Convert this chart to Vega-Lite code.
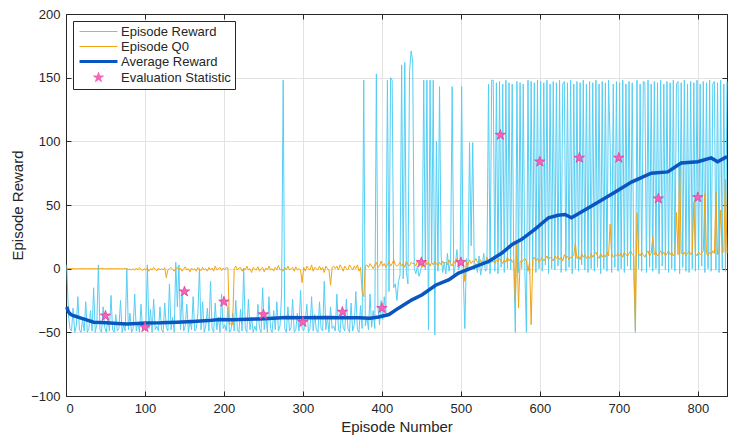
{
"$schema": "https://vega.github.io/schema/vega-lite/v6.json",
"width": 661, "height": 382,
"autosize": {"type": "none"},
"padding": {"left": 66, "top": 14, "right": 2, "bottom": 40},
"background": "white",
"config": {
 "view": {"stroke": "#262626", "strokeWidth": 1},
 "axis": {"domainColor": "#262626", "tickColor": "#262626", "labelColor": "#262626", "titleColor": "#262626", "labelFont": "Liberation Sans", "titleFont": "Liberation Sans", "labelFontSize": 13, "titleFontSize": 15, "titleFontWeight": "normal", "gridColor": "#E3E3E3", "tickSize": -5, "labelPadding": 11}
},
"datasets": {
"train": [
{"ep":1,"rw":3,"q0":0},{"ep":3,"rw":-36,"q0":0},{"ep":5,"rw":-47,"q0":0},{"ep":7,"rw":-49,"q0":0.2},{"ep":9,"rw":-31,"q0":0},{"ep":11,"rw":-50,"q0":0},{"ep":13,"rw":-45,"q0":-0.2},{"ep":15,"rw":-22,"q0":0},{"ep":17,"rw":-48,"q0":0},{"ep":19,"rw":-50,"q0":0},
{"ep":21,"rw":-40,"q0":0},{"ep":23,"rw":-49,"q0":0},{"ep":25,"rw":-26,"q0":0},{"ep":27,"rw":-50,"q0":0},{"ep":29,"rw":-47,"q0":0},{"ep":31,"rw":-33,"q0":0},{"ep":33,"rw":-49,"q0":0},{"ep":35,"rw":-15,"q0":0},{"ep":37,"rw":-50,"q0":0},{"ep":39,"rw":-44,"q0":0},
{"ep":41,"rw":3,"q0":0},{"ep":43,"rw":-48,"q0":0},{"ep":45,"rw":-50,"q0":0.2},{"ep":47,"rw":-30,"q0":0},{"ep":49,"rw":-46,"q0":0},{"ep":51,"rw":-50,"q0":-0.2},{"ep":53,"rw":-38,"q0":0},{"ep":55,"rw":-49,"q0":0},{"ep":57,"rw":-21,"q0":0},{"ep":59,"rw":-48,"q0":0},
{"ep":61,"rw":-50,"q0":0},{"ep":63,"rw":-36,"q0":0},{"ep":65,"rw":-49,"q0":0},{"ep":67,"rw":-47,"q0":0},{"ep":69,"rw":-25,"q0":0},{"ep":71,"rw":-50,"q0":-0.3},{"ep":73,"rw":-44,"q0":0},{"ep":75,"rw":-49,"q0":0.2},{"ep":77,"rw":0,"q0":0},{"ep":79,"rw":-48,"q0":-0.5},
{"ep":81,"rw":-35,"q0":-0.5},{"ep":83,"rw":-50,"q0":-1},{"ep":85,"rw":-47,"q0":0},{"ep":87,"rw":-20,"q0":-1.2},{"ep":89,"rw":-49,"q0":0.5},{"ep":91,"rw":-42,"q0":-1},{"ep":93,"rw":-50,"q0":0.8},{"ep":95,"rw":-28,"q0":-0.5},{"ep":97,"rw":-48,"q0":-1.5},{"ep":99,"rw":-46,"q0":0},
{"ep":101,"rw":-49,"q0":-1},{"ep":103,"rw":3,"q0":0.5},{"ep":105,"rw":-47,"q0":-2},{"ep":107,"rw":-32,"q0":0},{"ep":109,"rw":-50,"q0":-1},{"ep":111,"rw":-24,"q0":1},{"ep":113,"rw":-48,"q0":-0.5},{"ep":115,"rw":-45,"q0":-1.8},{"ep":117,"rw":-49,"q0":0.5},{"ep":119,"rw":-30,"q0":-1},
{"ep":121,"rw":-48,"q0":0},{"ep":123,"rw":-50,"q0":-1},{"ep":125,"rw":-27,"q0":0.8},{"ep":127,"rw":-46,"q0":-7},{"ep":129,"rw":-49,"q0":-1},{"ep":131,"rw":-12,"q0":0},{"ep":133,"rw":-48,"q0":1},{"ep":135,"rw":-38,"q0":-0.5},{"ep":137,"rw":-50,"q0":-2},{"ep":139,"rw":5,"q0":0},
{"ep":141,"rw":-30,"q0":1},{"ep":143,"rw":3,"q0":-1},{"ep":145,"rw":-48,"q0":0.5},{"ep":147,"rw":-18,"q0":-2},{"ep":149,"rw":-49,"q0":-0.5},{"ep":151,"rw":-45,"q0":1.5},{"ep":153,"rw":-28,"q0":-1},{"ep":155,"rw":-50,"q0":0},{"ep":157,"rw":-40,"q0":-2.5},{"ep":159,"rw":-48,"q0":0.5},
{"ep":161,"rw":-22,"q0":-1},{"ep":163,"rw":-49,"q0":0},{"ep":165,"rw":-47,"q0":-2},{"ep":167,"rw":-35,"q0":1},{"ep":169,"rw":0,"q0":-0.5},{"ep":171,"rw":-48,"q0":-1.5},{"ep":173,"rw":-26,"q0":1},{"ep":175,"rw":-50,"q0":-1},{"ep":177,"rw":-45,"q0":0},{"ep":179,"rw":-31,"q0":-2},
{"ep":181,"rw":-49,"q0":1},{"ep":183,"rw":-10,"q0":-1},{"ep":185,"rw":-47,"q0":0.5},{"ep":187,"rw":-50,"q0":-2},{"ep":189,"rw":-27,"q0":2},{"ep":191,"rw":-48,"q0":-1},{"ep":193,"rw":-38,"q0":0},{"ep":195,"rw":-50,"q0":1},{"ep":197,"rw":-20,"q0":-1.5},{"ep":199,"rw":-47,"q0":0.5},
{"ep":201,"rw":-44,"q0":-1},{"ep":203,"rw":-49,"q0":1},{"ep":205,"rw":-30,"q0":0.5},{"ep":207,"rw":-50,"q0":-44},{"ep":209,"rw":-48,"q0":-43},{"ep":211,"rw":-35,"q0":-44},{"ep":213,"rw":-49,"q0":0},{"ep":215,"rw":-25,"q0":2},{"ep":217,"rw":-48,"q0":-1},{"ep":219,"rw":-50,"q0":0.5},
{"ep":221,"rw":-32,"q0":1},{"ep":223,"rw":-49,"q0":-2},{"ep":225,"rw":0,"q0":0.5},{"ep":227,"rw":-47,"q0":-1},{"ep":229,"rw":-50,"q0":2},{"ep":231,"rw":-24,"q0":-1},{"ep":233,"rw":-48,"q0":0},{"ep":235,"rw":-38,"q0":-3},{"ep":237,"rw":-50,"q0":1},{"ep":239,"rw":-45,"q0":-0.5},
{"ep":241,"rw":-49,"q0":-1},{"ep":243,"rw":-28,"q0":1.5},{"ep":245,"rw":-47,"q0":-2},{"ep":247,"rw":-50,"q0":0},{"ep":249,"rw":-15,"q0":1},{"ep":251,"rw":-48,"q0":-2.5},{"ep":253,"rw":-36,"q0":0.5},{"ep":255,"rw":-50,"q0":-1},{"ep":257,"rw":-22,"q0":2},{"ep":259,"rw":-47,"q0":-1},
{"ep":261,"rw":-50,"q0":0},{"ep":263,"rw":-33,"q0":-2},{"ep":265,"rw":-48,"q0":1},{"ep":267,"rw":-26,"q0":-1},{"ep":269,"rw":-49,"q0":2.5},{"ep":271,"rw":-45,"q0":-1},{"ep":273,"rw":-20,"q0":0},{"ep":275,"rw":148,"q0":-2},{"ep":277,"rw":-47,"q0":1},{"ep":279,"rw":-50,"q0":-1},
{"ep":281,"rw":-30,"q0":2},{"ep":283,"rw":-49,"q0":-1},{"ep":285,"rw":-46,"q0":0},{"ep":287,"rw":-24,"q0":1},{"ep":289,"rw":-50,"q0":-2},{"ep":291,"rw":-48,"q0":1.5},{"ep":293,"rw":-35,"q0":-1},{"ep":295,"rw":-49,"q0":0},{"ep":297,"rw":-17,"q0":-1},{"ep":299,"rw":-47,"q0":-11},
{"ep":301,"rw":-49,"q0":1},{"ep":303,"rw":-40,"q0":-2},{"ep":305,"rw":-28,"q0":2},{"ep":307,"rw":-50,"q0":0},{"ep":309,"rw":-47,"q0":-1},{"ep":311,"rw":-22,"q0":3},{"ep":313,"rw":-49,"q0":-2},{"ep":315,"rw":-36,"q0":1},{"ep":317,"rw":-48,"q0":0},{"ep":319,"rw":-50,"q0":-1},
{"ep":321,"rw":-26,"q0":2},{"ep":323,"rw":-47,"q0":-1},{"ep":325,"rw":-49,"q0":1},{"ep":327,"rw":-10,"q0":-3},{"ep":329,"rw":-48,"q0":2},{"ep":331,"rw":-38,"q0":0},{"ep":333,"rw":-50,"q0":-1},{"ep":335,"rw":-30,"q0":-13},{"ep":337,"rw":-47,"q0":1},{"ep":339,"rw":-45,"q0":2},
{"ep":341,"rw":-49,"q0":0},{"ep":343,"rw":-20,"q0":2},{"ep":345,"rw":-48,"q0":-1},{"ep":347,"rw":-50,"q0":3},{"ep":349,"rw":-33,"q0":1},{"ep":351,"rw":-46,"q0":-2},{"ep":353,"rw":-49,"q0":2},{"ep":355,"rw":-24,"q0":0},{"ep":357,"rw":-47,"q0":-1},{"ep":359,"rw":-50,"q0":3},
{"ep":361,"rw":-27,"q0":1},{"ep":363,"rw":-49,"q0":-1},{"ep":365,"rw":-44,"q0":2},{"ep":367,"rw":-18,"q0":0},{"ep":369,"rw":-48,"q0":3},{"ep":371,"rw":-50,"q0":-2},{"ep":373,"rw":-29,"q0":1},{"ep":375,"rw":-47,"q0":-18},{"ep":377,"rw":148,"q0":-22},{"ep":379,"rw":-45,"q0":2},
{"ep":381,"rw":-38,"q0":3},{"ep":383,"rw":-48,"q0":1},{"ep":385,"rw":-20,"q0":4},{"ep":387,"rw":-46,"q0":2},{"ep":389,"rw":-33,"q0":0},{"ep":391,"rw":-47,"q0":3},{"ep":393,"rw":153,"q0":5},{"ep":395,"rw":-30,"q0":1},{"ep":397,"rw":-44,"q0":2},{"ep":399,"rw":-25,"q0":6},
{"ep":401,"rw":-40,"q0":2},{"ep":403,"rw":-22,"q0":4},{"ep":405,"rw":-35,"q0":1},{"ep":407,"rw":148,"q0":3},{"ep":409,"rw":-18,"q0":6},{"ep":411,"rw":150,"q0":2},{"ep":413,"rw":148,"q0":4},{"ep":415,"rw":-15,"q0":7},{"ep":417,"rw":-12,"q0":3},{"ep":419,"rw":-25,"q0":2},
{"ep":421,"rw":-10,"q0":3},{"ep":423,"rw":-5,"q0":5},{"ep":425,"rw":160,"q0":2},{"ep":427,"rw":-8,"q0":4},{"ep":429,"rw":162,"q0":1},{"ep":431,"rw":-3,"q0":6},{"ep":433,"rw":-12,"q0":3},{"ep":435,"rw":155,"q0":2},{"ep":437,"rw":171,"q0":5},{"ep":439,"rw":163,"q0":4},
{"ep":441,"rw":0,"q0":4},{"ep":443,"rw":-4,"q0":2},{"ep":445,"rw":2,"q0":6},{"ep":447,"rw":-6,"q0":3},{"ep":449,"rw":-2,"q0":5},{"ep":451,"rw":5,"q0":1},{"ep":453,"rw":148,"q0":4},{"ep":455,"rw":-1,"q0":7},{"ep":457,"rw":148,"q0":3},{"ep":459,"rw":-48,"q0":5},
{"ep":461,"rw":148,"q0":2},{"ep":463,"rw":5,"q0":5},{"ep":465,"rw":148,"q0":3},{"ep":467,"rw":-52,"q0":6},{"ep":469,"rw":100,"q0":4},{"ep":471,"rw":-2,"q0":2},{"ep":473,"rw":143,"q0":5},{"ep":475,"rw":10,"q0":3},{"ep":477,"rw":-3,"q0":6},{"ep":479,"rw":5,"q0":4},
{"ep":481,"rw":-4,"q0":5},{"ep":483,"rw":12,"q0":3},{"ep":485,"rw":-2,"q0":7},{"ep":487,"rw":6,"q0":4},{"ep":489,"rw":143,"q0":2},{"ep":491,"rw":-5,"q0":6},{"ep":493,"rw":3,"q0":4},{"ep":495,"rw":15,"q0":8},{"ep":497,"rw":-1,"q0":3},{"ep":499,"rw":2,"q0":5},
{"ep":501,"rw":143,"q0":4},{"ep":503,"rw":-3,"q0":6},{"ep":505,"rw":-47,"q0":-10},{"ep":507,"rw":8,"q0":5},{"ep":509,"rw":-2,"q0":3},{"ep":511,"rw":99,"q0":7},{"ep":513,"rw":18,"q0":4},{"ep":515,"rw":99,"q0":6},{"ep":517,"rw":-1,"q0":5},{"ep":519,"rw":4,"q0":8},
{"ep":521,"rw":-3,"q0":5},{"ep":523,"rw":10,"q0":3},{"ep":525,"rw":-5,"q0":7},{"ep":527,"rw":2,"q0":4},{"ep":529,"rw":12,"q0":6},{"ep":531,"rw":-2,"q0":5},{"ep":533,"rw":0,"q0":9},{"ep":535,"rw":145,"q0":4},{"ep":537,"rw":-4,"q0":6},{"ep":539,"rw":148,"q0":5},
{"ep":541,"rw":148,"q0":6},{"ep":543,"rw":-2,"q0":4},{"ep":545,"rw":146,"q0":7},{"ep":547,"rw":-4,"q0":5},{"ep":549,"rw":147,"q0":8},{"ep":551,"rw":1,"q0":6},{"ep":553,"rw":145,"q0":4},{"ep":555,"rw":-3,"q0":7},{"ep":557,"rw":148,"q0":5},{"ep":559,"rw":0,"q0":9},
{"ep":561,"rw":146,"q0":6},{"ep":563,"rw":-1,"q0":8},{"ep":565,"rw":145,"q0":5},{"ep":567,"rw":2,"q0":7},{"ep":569,"rw":-50,"q0":-26},{"ep":571,"rw":147,"q0":21},{"ep":573,"rw":-3,"q0":-31},{"ep":575,"rw":146,"q0":6},{"ep":577,"rw":0,"q0":5},{"ep":579,"rw":145,"q0":7},
{"ep":581,"rw":-2,"q0":8},{"ep":583,"rw":-50,"q0":6},{"ep":585,"rw":148,"q0":-2},{"ep":587,"rw":-4,"q0":5},{"ep":589,"rw":147,"q0":-44},{"ep":591,"rw":1,"q0":7},{"ep":593,"rw":146,"q0":9},{"ep":595,"rw":-3,"q0":6},{"ep":597,"rw":148,"q0":8},{"ep":599,"rw":0,"q0":5},
{"ep":601,"rw":147,"q0":7},{"ep":603,"rw":-2,"q0":9},{"ep":605,"rw":146,"q0":6},{"ep":607,"rw":3,"q0":8},{"ep":609,"rw":148,"q0":10},{"ep":611,"rw":-4,"q0":7},{"ep":613,"rw":145,"q0":9},{"ep":615,"rw":0,"q0":8},{"ep":617,"rw":147,"q0":6},{"ep":619,"rw":-1,"q0":10},
{"ep":621,"rw":146,"q0":8},{"ep":623,"rw":2,"q0":10},{"ep":625,"rw":148,"q0":7},{"ep":627,"rw":-3,"q0":9},{"ep":629,"rw":145,"q0":6},{"ep":631,"rw":147,"q0":11},{"ep":633,"rw":-2,"q0":8},{"ep":635,"rw":146,"q0":10},{"ep":637,"rw":1,"q0":7},{"ep":639,"rw":148,"q0":9},
{"ep":641,"rw":-4,"q0":9},{"ep":643,"rw":145,"q0":11},{"ep":645,"rw":0,"q0":20},{"ep":647,"rw":147,"q0":8},{"ep":649,"rw":-2,"q0":10},{"ep":651,"rw":146,"q0":7},{"ep":653,"rw":3,"q0":12},{"ep":655,"rw":148,"q0":9},{"ep":657,"rw":-1,"q0":11},{"ep":659,"rw":145,"q0":8},
{"ep":661,"rw":-3,"q0":10},{"ep":663,"rw":147,"q0":8},{"ep":665,"rw":0,"q0":12},{"ep":667,"rw":146,"q0":9},{"ep":669,"rw":-2,"q0":11},{"ep":671,"rw":148,"q0":13},{"ep":673,"rw":1,"q0":10},{"ep":675,"rw":145,"q0":8},{"ep":677,"rw":-4,"q0":12},{"ep":679,"rw":147,"q0":9},
{"ep":681,"rw":0,"q0":11},{"ep":683,"rw":146,"q0":9},{"ep":685,"rw":-2,"q0":13},{"ep":687,"rw":148,"q0":10},{"ep":689,"rw":100,"q0":35},{"ep":691,"rw":-3,"q0":12},{"ep":693,"rw":145,"q0":9},{"ep":695,"rw":1,"q0":11},{"ep":697,"rw":147,"q0":10},{"ep":699,"rw":-2,"q0":12},
{"ep":701,"rw":146,"q0":10},{"ep":703,"rw":0,"q0":12},{"ep":705,"rw":148,"q0":9},{"ep":707,"rw":-3,"q0":13},{"ep":709,"rw":145,"q0":11},{"ep":711,"rw":2,"q0":10},{"ep":713,"rw":147,"q0":12},{"ep":715,"rw":-1,"q0":14},{"ep":717,"rw":146,"q0":11},{"ep":719,"rw":-4,"q0":10},
{"ep":721,"rw":-50,"q0":-48},{"ep":723,"rw":148,"q0":44},{"ep":725,"rw":0,"q0":12},{"ep":727,"rw":145,"q0":10},{"ep":729,"rw":-2,"q0":13},{"ep":731,"rw":147,"q0":11},{"ep":733,"rw":146,"q0":9},{"ep":735,"rw":-3,"q0":12},{"ep":737,"rw":148,"q0":14},{"ep":739,"rw":1,"q0":10},
{"ep":741,"rw":145,"q0":12},{"ep":743,"rw":-2,"q0":25},{"ep":745,"rw":147,"q0":11},{"ep":747,"rw":0,"q0":13},{"ep":749,"rw":146,"q0":10},{"ep":751,"rw":-4,"q0":12},{"ep":753,"rw":148,"q0":14},{"ep":755,"rw":2,"q0":11},{"ep":757,"rw":145,"q0":13},{"ep":759,"rw":-1,"q0":10},
{"ep":761,"rw":147,"q0":12},{"ep":763,"rw":-3,"q0":14},{"ep":765,"rw":146,"q0":11},{"ep":767,"rw":0,"q0":13},{"ep":769,"rw":148,"q0":10},{"ep":771,"rw":-2,"q0":12},{"ep":773,"rw":145,"q0":44},{"ep":775,"rw":147,"q0":11},{"ep":777,"rw":-4,"q0":80},{"ep":779,"rw":146,"q0":12},
{"ep":781,"rw":1,"q0":11},{"ep":783,"rw":148,"q0":13},{"ep":785,"rw":-2,"q0":10},{"ep":787,"rw":145,"q0":12},{"ep":789,"rw":-3,"q0":14},{"ep":791,"rw":147,"q0":11},{"ep":793,"rw":0,"q0":13},{"ep":795,"rw":146,"q0":52},{"ep":797,"rw":-2,"q0":12},{"ep":799,"rw":148,"q0":10},
{"ep":801,"rw":-1,"q0":13},{"ep":803,"rw":145,"q0":11},{"ep":805,"rw":2,"q0":12},{"ep":807,"rw":147,"q0":14},{"ep":809,"rw":-3,"q0":59},{"ep":811,"rw":146,"q0":12},{"ep":813,"rw":0,"q0":10},{"ep":815,"rw":148,"q0":13},{"ep":817,"rw":-2,"q0":11},{"ep":819,"rw":145,"q0":14},
{"ep":821,"rw":147,"q0":12},{"ep":823,"rw":-1,"q0":60},{"ep":825,"rw":146,"q0":11},{"ep":827,"rw":-3,"q0":13},{"ep":829,"rw":148,"q0":46},{"ep":831,"rw":0,"q0":12},{"ep":833,"rw":145,"q0":14},{"ep":835,"rw":-2,"q0":70},{"ep":837,"rw":147,"q0":12}
],
"avg": [
{"ep":1,"avg":-30},{"ep":3,"avg":-34},{"ep":6,"avg":-36},{"ep":10,"avg":-37},{"ep":18,"avg":-38.6},{"ep":25,"avg":-40},{"ep":35,"avg":-42},{"ep":45,"avg":-42.3},{"ep":56,"avg":-42.7},{"ep":65,"avg":-43},{"ep":77,"avg":-43.5},{"ep":90,"avg":-43},{"ep":102,"avg":-42.7},{"ep":120,"avg":-42.5},{"ep":140,"avg":-42},{"ep":161,"avg":-41.4},{"ep":180,"avg":-40.8},{"ep":194,"avg":-40},{"ep":210,"avg":-40.2},{"ep":230,"avg":-39.7},{"ep":245,"avg":-39.5},{"ep":262,"avg":-39},{"ep":279,"avg":-38.3},{"ep":300,"avg":-38.6},{"ep":329,"avg":-38.3},{"ep":350,"avg":-38.6},{"ep":371,"avg":-38.5},{"ep":385,"avg":-38.9},{"ep":396,"avg":-38},{"ep":409,"avg":-36},{"ep":421,"avg":-31},{"ep":438,"avg":-24.5},{"ep":451,"avg":-20.5},{"ep":468,"avg":-13},{"ep":485,"avg":-8.6},{"ep":497,"avg":-3.4},{"ep":514,"avg":0.6},{"ep":535,"avg":5.6},{"ep":552,"avg":12.3},{"ep":565,"avg":19},{"ep":577,"avg":23},{"ep":594,"avg":31},{"ep":611,"avg":40},{"ep":623,"avg":42},{"ep":632,"avg":42.5},{"ep":640,"avg":40},{"ep":665,"avg":49},{"ep":695,"avg":60},{"ep":716,"avg":68},{"ep":741,"avg":75},{"ep":762,"avg":76},{"ep":779,"avg":83},{"ep":800,"avg":84},{"ep":817,"avg":87},{"ep":825,"avg":84},{"ep":837,"avg":88}
],
"evalstat": [
{"ep":50,"ev":-37},{"ep":100,"ev":-46},{"ep":150,"ev":-18},{"ep":200,"ev":-26},{"ep":250,"ev":-36},{"ep":300,"ev":-42},{"ep":350,"ev":-34},{"ep":400,"ev":-31},{"ep":450,"ev":5},{"ep":500,"ev":5},{"ep":550,"ev":105},{"ep":600,"ev":84},{"ep":650,"ev":87},{"ep":700,"ev":87},{"ep":750,"ev":55},{"ep":800,"ev":56}
]
},
"layer": [
{
 "data": {"name": "train"},
 "mark": {"type": "line", "strokeWidth": 1, "interpolate": "linear"},
 "encoding": {
  "x": {"field": "ep", "type": "quantitative", "scale": {"domain": [0, 837], "nice": false, "zero": false},
        "axis": {"orient": "bottom", "values": [0,100,200,300,400,500,600,700,800], "title": "Episode Number", "grid": true, "titlePadding": 4}},
  "y": {"field": "rw", "type": "quantitative", "scale": {"domain": [-100, 200], "nice": false},
        "axis": {"orient": "left", "values": [-100,-50,0,50,100,150,200], "title": "Episode Reward", "grid": true, "titlePadding": 5}},
  "color": {"datum": "Episode Reward", "type": "nominal",
   "scale": {"domain": ["Episode Reward", "Episode Q0", "Average Reward", "Evaluation Statistic"], "range": ["#55CEF4", "#F2A414", "#0A56C0", "#F564B8"]},
   "legend": {"orient": "none", "legendX": 7, "legendY": 7, "title": null, "fillColor": "white", "strokeColor": "#262626", "padding": 4,
    "labelFont": "Liberation Sans", "labelFontSize": 13, "labelColor": "#262626", "symbolSize": 90, "symbolOffset": 15, "labelOffset": 16, "rowPadding": 1,
    "symbolType": "M-4,0L4,0",
    "encode": {"symbols": {"update": {
     "shape": {"signal": "datum.value === 'Evaluation Statistic' ? 'M0,-1L0.2245,-0.309L0.9511,-0.309L0.3633,0.118L0.5878,0.809L0,0.382L-0.5878,0.809L-0.3633,0.118L-0.9511,-0.309L-0.2245,-0.309Z' : 'M-4,0L4,0'"},
     "size": {"signal": "datum.value === 'Evaluation Statistic' ? 110 : 90"},
     "strokeWidth": {"signal": "datum.value === 'Average Reward' ? 3 : (datum.value === 'Evaluation Statistic' ? 0.8 : 1.2)"},
     "fill": {"signal": "datum.value === 'Evaluation Statistic' ? '#F564B8' : 'transparent'"},
     "stroke": {"signal": "datum.value === 'Evaluation Statistic' ? '#E0409A' : scale('color', datum.value)"},
     "opacity": {"value": 1}
    }}}
   }}
 }
},
{
 "data": {"name": "train"},
 "mark": {"type": "line", "strokeWidth": 1},
 "encoding": {
  "x": {"field": "ep", "type": "quantitative", "axis": null},
  "y": {"field": "q0", "type": "quantitative", "axis": null},
  "color": {"datum": "Episode Q0", "type": "nominal"}
 }
},
{
 "data": {"name": "avg"},
 "mark": {"type": "line", "strokeWidth": 3.5},
 "encoding": {
  "x": {"field": "ep", "type": "quantitative", "axis": null},
  "y": {"field": "avg", "type": "quantitative", "axis": null},
  "color": {"datum": "Average Reward", "type": "nominal"}
 }
},
{
 "data": {"name": "evalstat"},
 "mark": {"type": "point", "filled": true, "opacity": 1, "size": 120, "stroke": "#E0409A", "strokeWidth": 0.8,
  "shape": "M0,-1L0.2245,-0.309L0.9511,-0.309L0.3633,0.118L0.5878,0.809L0,0.382L-0.5878,0.809L-0.3633,0.118L-0.9511,-0.309L-0.2245,-0.309Z"},
 "encoding": {
  "x": {"field": "ep", "type": "quantitative", "axis": {"orient": "top", "labels": false, "title": null, "grid": false, "values": [0,100,200,300,400,500,600,700,800]}},
  "y": {"field": "ev", "type": "quantitative", "axis": {"orient": "right", "labels": false, "title": null, "grid": false, "values": [-100,-50,0,50,100,150,200]}},
  "color": {"datum": "Evaluation Statistic", "type": "nominal"}
 }
}
],
"resolve": {"axis": {"x": "independent", "y": "independent"}}
}
